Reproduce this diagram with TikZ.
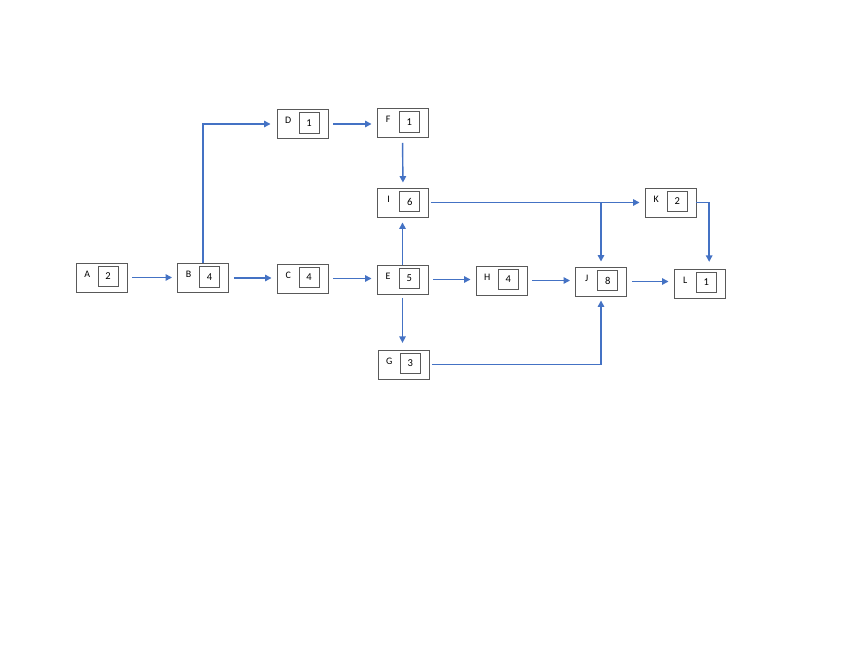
\documentclass[tikz,border=0pt]{standalone}
\usepackage{fontspec}
\setmainfont{Carlito}
\usetikzlibrary{arrows.meta}
\definecolor{flowblue}{HTML}{4472C4}
\definecolor{boxgray}{HTML}{595959}
\tikzset{
  actbox/.style={draw=boxgray, line width=0.8pt, minimum width=1.53cm, minimum height=0.87cm, inner sep=0pt},
  durbox/.style={draw=boxgray, line width=0.75pt, minimum width=0.6cm, minimum height=0.62cm, inner sep=0pt, font=\fontsize{9}{10}\selectfont},
  actname/.style={inner sep=0pt, font=\fontsize{8.5}{10}\selectfont},
  flow/.style={draw=flowblue, line width=1.2pt, -{Triangle[length=5.5pt,width=5.5pt]}},
  gap/.style={shorten >=0.15cm, shorten <=0.15cm},
}
% name, letter, duration, centre (in pixels)
\newcommand{\activity}[4]{%
  \node[actbox] (#1) at (#4) {};
  \node[actname, xshift=-0.43cm, yshift=0.1cm] (#1-n) at (#1) {#2};
  \node[durbox, xshift=0.2cm, yshift=0.03cm] (#1-d) at (#1) {#3};
}
\begin{document}
\begin{tikzpicture}[x=0.03cm, y=-0.03cm]
\useasboundingbox (0,0) rectangle (848,655);
\activity{a}{A}{2}{101.5,277.5}
\activity{b}{B}{4}{203,278}
\activity{c}{C}{4}{302.5,278.5}
\activity{d}{D}{1}{302.5,124}
\activity{f}{F}{1}{402.5,123}
\activity{i}{I}{6}{403,202.5}
\activity{e}{E}{5}{402.5,279.5}
\activity{h}{H}{4}{501.5,280.5}
\activity{j}{J}{8}{601,281.5}
\activity{k}{K}{2}{670.5,202.5}
\activity{l}{L}{1}{699.5,283.5}
\activity{g}{G}{3}{403.5,364.5}
% straight links
\draw[flow, gap] (a.east) -- (a.east -| b.west);
\draw[flow, gap] (b.east) -- (b.east -| c.west);
\draw[flow, gap] (c.east) -- (c.east -| e.west);
\draw[flow, gap] (d.east) -- (d.east -| f.west);
\draw[flow, gap] (e.east) -- (e.east -| h.west);
\draw[flow, gap] (h.east) -- (h.east -| j.west);
\draw[flow, gap] (j.east) -- (j.east -| l.west);
\draw[flow, gap] (f.south) -- (i.north);
\draw[flow, shorten >=0.15cm] (e.north) -- (e.north |- i.south);
\draw[flow, shorten >=0.2cm, shorten <=0.1cm] (e.south) -- (e.south |- g.north);
% elbow links
\draw[flow, shorten >=0.18cm] (b.north) |- (d.west);
\draw[flow, shorten >=0.15cm, shorten <=0.06cm] (i.east) -- (k.west);
\draw[flow, shorten >=0.15cm] (i.east -| j.north) -- (j.north);
\draw[flow, shorten >=0.2cm] (k.east) -| ([xshift=0.29cm]l.north);
\draw[flow, shorten >=0.12cm, shorten <=0.09cm] (g.east) -| (j.south);
\end{tikzpicture}
\end{document}
